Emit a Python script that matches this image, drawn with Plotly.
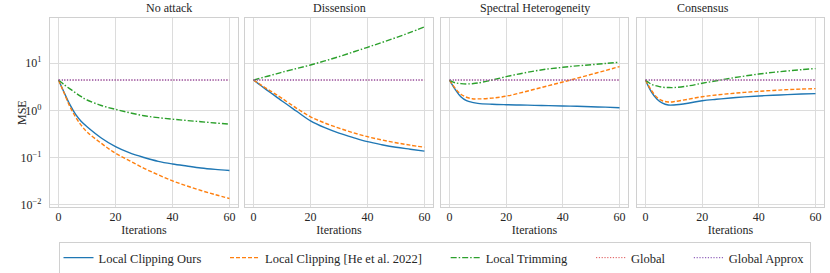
import plotly.graph_objects as go
from plotly.subplots import make_subplots

panel_titles = ["No attack", "Dissension", "Spectral Heterogeneity", "Consensus"]
iters = [0, 2, 4, 6, 8, 10, 15, 20, 25, 30, 35, 40, 45, 50, 55, 60]

series_names = ["Local Clipping Ours", "Local Clipping [He et al. 2022]",
                "Local Trimming", "Global", "Global Approx"]

# No attack
ours_noattack = [4.4, 2.37, 1.32, 0.82, 0.58, 0.45, 0.26, 0.17, 0.125, 0.10, 0.083, 0.073, 0.066, 0.060, 0.056, 0.053]
he_noattack = [4.4, 2.3, 1.2, 0.72, 0.48, 0.35, 0.20, 0.123, 0.085, 0.059, 0.043, 0.032, 0.025, 0.020, 0.0163, 0.0135]
trim_noattack = [4.4, 3.5, 2.85, 2.35, 1.95, 1.66, 1.27, 1.05, 0.89, 0.77, 0.70, 0.65, 0.61, 0.575, 0.54, 0.51]
# Dissension
ours_dissension = [4.4, 3.57, 2.9, 2.37, 1.94, 1.58, 0.97, 0.6, 0.43, 0.33, 0.265, 0.217, 0.187, 0.165, 0.15, 0.137]
he_dissension = [4.4, 3.67, 3.05, 2.57, 2.15, 1.8, 1.12, 0.73, 0.54, 0.42, 0.335, 0.277, 0.236, 0.206, 0.183, 0.165]
trim_dissension = [4.4, 4.75, 5.13, 5.52, 5.97, 6.45, 7.7, 9.2, 11.2, 13.8, 17.3, 21.8, 27.5, 35, 45, 59]
# Spectral heterogeneity
ours_spectral = [4.4, 2.8, 1.95, 1.61, 1.48, 1.41, 1.35, 1.32, 1.30, 1.28, 1.26, 1.24, 1.22, 1.19, 1.17, 1.14]
he_spectral = [4.4, 2.95, 2.2, 1.9, 1.77, 1.75, 1.82, 2.0, 2.35, 2.8, 3.35, 4.0, 4.8, 5.8, 7.0, 8.5]
trim_spectral = [4.4, 3.85, 3.7, 3.64, 3.68, 3.8, 4.4, 5.2, 6.0, 6.85, 7.6, 8.2, 8.8, 9.3, 9.9, 10.5]
# Consensus
ours_consensus = [4.4, 2.5, 1.75, 1.42, 1.3, 1.3, 1.42, 1.6, 1.72, 1.83, 1.93, 2.02, 2.09, 2.16, 2.22, 2.27]
he_consensus = [4.4, 2.7, 1.9, 1.6, 1.51, 1.53, 1.72, 1.95, 2.12, 2.27, 2.41, 2.54, 2.65, 2.75, 2.83, 2.9]
trim_consensus = [4.4, 3.6, 3.3, 3.1, 3.05, 3.05, 3.3, 3.76, 4.25, 4.8, 5.35, 5.9, 6.4, 6.85, 7.3, 7.7]
# Global baselines (constant)
global_value = [4.4] * len(iters)
global_approx_value = [4.4] * len(iters)

panels = [
    (ours_noattack, he_noattack, trim_noattack),
    (ours_dissension, he_dissension, trim_dissension),
    (ours_spectral, he_spectral, trim_spectral),
    (ours_consensus, he_consensus, trim_consensus),
]

colors = ["#1f77b4", "#ff7f0e", "#2ca02c", "#d62728", "#9467bd"]
dashes = ["solid", "4px,2px", "6px,2px,1.5px,2px", "1.2px,1.6px", "1.2px,1.6px"]
widths = [1.4, 1.4, 1.4, 0.8, 1.4]

FONT = "Liberation Serif"
TXT = "#262626"

fig = make_subplots(rows=1, cols=4, shared_yaxes=True, horizontal_spacing=0.01)

pad = "\u00a0" * 6
for i, (ours, he, trim) in enumerate(panels):
    ys = [ours, he, trim, global_value, global_approx_value]
    for k in range(5):
        fig.add_trace(go.Scatter(
            x=iters, y=ys[k], mode="lines",
            name=series_names[k] + (pad if k < 4 else ""),
            line=dict(color=colors[k], width=widths[k], dash=dashes[k], shape="spline", smoothing=1.0),
            showlegend=(i == 0), legendgroup=str(k), hoverinfo="skip",
        ), row=1, col=i + 1)

L, R, T, B = 50, 6, 18, 66
W, H = 830, 273
pw = W - L - R
edges = [(50, 238), (245, 433), (441, 628), (637, 824)]
grid_c = "#dcdcdc"
for i, (a, b) in enumerate(edges):
    ax = "xaxis" if i == 0 else f"xaxis{i+1}"
    fig.layout[ax].update(
        domain=[(a - L) / pw, (b - L) / pw], range=[-3, 63], automargin=False,
        tickvals=[0, 20, 40, 60], showgrid=True, gridcolor=grid_c, gridwidth=1.2,
        zeroline=False, showline=True, mirror=True, linecolor="#d0d0d0", linewidth=1.2,
        tickfont=dict(family=FONT, size=12, color=TXT), ticks="", ticklabelstandoff=-2,
        title=dict(text="Iterations", font=dict(family=FONT, size=12, color=TXT), standoff=0),
    )
    ay = "yaxis" if i == 0 else f"yaxis{i+1}"
    fig.layout[ay].update(
        type="log", range=[-2.05, 1.96], automargin=False,
        tickvals=[0.01, 0.1, 1, 10],
        ticktext=["10<sup>−2</sup>", "10<sup>−1</sup>", "10<sup>0</sup>", "10<sup>1</sup>"],
        showticklabels=(i == 0), showgrid=True, gridcolor=grid_c, gridwidth=1.2,
        zeroline=False, showline=True, mirror=True, linecolor="#d0d0d0", linewidth=1.2,
        tickfont=dict(family=FONT, size=12, color=TXT), ticks="", ticklabelstandoff=5,
    )
    fig.add_annotation(
        x=((a + b) / 2 - L) / pw, y=1, xref="paper", yref="paper",
        text=panel_titles[i], showarrow=False, yanchor="bottom", yshift=1,
        font=dict(family=FONT, size=12, color=TXT),
    )

fig.add_annotation(
    x=(12.5 - L) / pw, y=0.5, xref="paper", yref="paper", text="MSE",
    textangle=-90, showarrow=False, font=dict(family=FONT, size=12, color=TXT),
)

fig.update_layout(
    width=W, height=H, margin=dict(l=L, r=R, t=T, b=B, autoexpand=False),
    plot_bgcolor="white", paper_bgcolor="white",
    font=dict(family=FONT, size=12, color=TXT),
    legend=dict(orientation="h", x=(434.5 - L) / pw, xanchor="center",
                y=-(242 - (H - B)) / (H - T - B), yanchor="top",
                bordercolor="#d0d0d0", borderwidth=1,
                font=dict(family=FONT, size=12.5, color=TXT),
                tracegroupgap=0, itemwidth=30),
)

fig.write_html("out.html", config={"displayModeBar": False},
               post_script="document.body.style.margin='0px';document.body.style.overflow='hidden';")
